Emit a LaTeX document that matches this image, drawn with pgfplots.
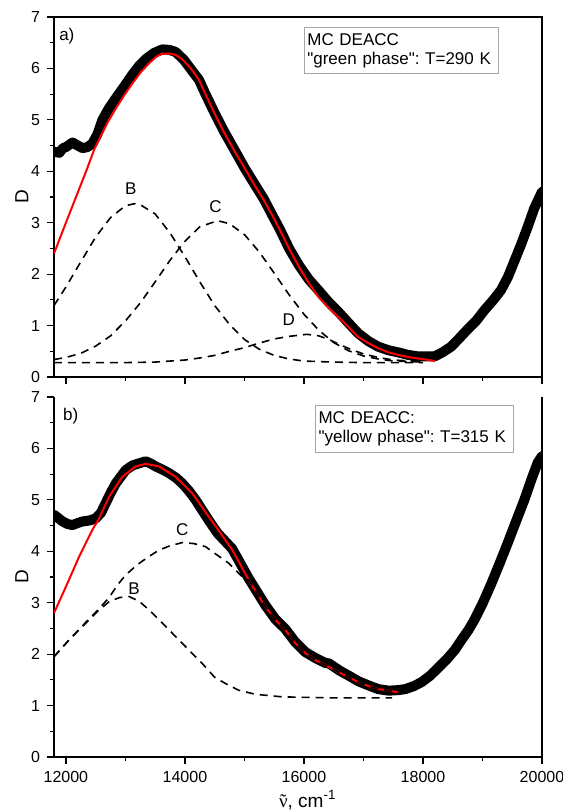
\documentclass[border=0pt]{standalone}
\usepackage{fontspec}
\setmainfont{Liberation Sans}
\newfontfamily\tnr{Liberation Serif}
\usepackage{pgfplots}
\pgfplotsset{compat=1.18}

\pgfplotsset{
  specax/.style={
    scale only axis, width=244pt, height=180pt,
    xmin=11800, xmax=20000, ymin=0, ymax=7,
    xtick={12000,14000,16000,18000,20000},
    minor x tick num=1,
    ytick={0,1,...,7}, minor y tick num=1,
    tick align=outside, tick pos=left,
    major tick length=3.5pt, minor tick length=1.8pt,
    scaled x ticks=false,
    /pgf/number format/1000 sep={},
    /pgf/number format/assume math mode=true,
    tick label style={font=\fontsize{8}{9}\selectfont},
    axis line style={line width=0.7pt, -},
    every tick/.style={black, line width=0.6pt},
    ylabel={D},
    ylabel style={at={(axis description cs:-0.066,0.5)}, anchor=center,
      font=\fontsize{9.5}{10}\selectfont},
  },
  meas/.style={black, line width=5pt, line join=round, line cap=round},
  fit/.style={red, line width=1pt, line join=round},
  comp/.style={black, line width=0.8pt, dash pattern=on 4pt off 3pt},
}
\tikzset{
  tag/.style={font=\fontsize{8.5}{9}\selectfont},
  lbox/.style={draw=gray!70, fill=white, line width=0.5pt, anchor=north west,
    align=left, inner xsep=1.5pt, inner ysep=2.5pt,
    font=\fontsize{8.5}{9.5}\selectfont\frenchspacing},
}

\begin{document}
\begin{tikzpicture}
\useasboundingbox (-27pt,-27pt) rectangle (254.5pt,378.5pt);

% ---------- panel a ----------
\begin{axis}[specax, at={(0pt,190pt)}, anchor=south west, xticklabels={}]
  \addplot[meas] coordinates {
    (11800,4.38) (11890,4.36) (11950,4.45) (12000,4.47) (12112,4.56) (12200,4.50)
    (12280,4.45) (12360,4.47) (12446,4.54) (12530,4.72) (12614,5.0) (12720,5.22)
    (12838,5.42) (12980,5.65) (13117,5.88) (13230,6.05) (13340,6.18) (13480,6.3)
    (13620,6.37) (13740,6.36) (13844,6.32) (13980,6.17) (14123,5.95) (14235,5.78)
    (14346,5.5) (14500,5.13) (14655,4.78) (14850,4.38) (15000,4.07) (15170,3.75)
    (15326,3.46) (15480,3.12) (15600,2.86) (15750,2.5) (15912,2.18) (16080,1.9)
    (16241,1.69) (16420,1.45) (16576,1.27) (16750,1.05) (16911,0.85) (17080,0.70)
    (17246,0.59) (17420,0.52) (17581,0.48) (17750,0.43) (17916,0.40) (18050,0.40)
    (18195,0.40) (18330,0.48) (18474,0.59) (18600,0.74) (18753,0.93) (18900,1.10)
    (19033,1.30) (19170,1.48) (19312,1.69) (19430,1.95) (19535,2.25) (19650,2.58)
    (19760,2.92) (19870,3.28) (20000,3.6)
  };
  \addplot[fit] coordinates {
    (11800,2.4) (12000,3.0) (12170,3.5) (12340,4.0) (12475,4.42) (12558,4.62)
    (12700,4.95) (12838,5.22) (12980,5.48) (13117,5.71) (13260,5.93) (13397,6.1)
    (13520,6.23) (13620,6.29) (13750,6.29) (13850,6.26) (13955,6.18) (14100,6.0)
    (14235,5.78) (14346,5.5) (14500,5.12) (14655,4.76) (14850,4.36) (15000,4.07)
    (15170,3.73) (15326,3.44) (15480,3.12) (15600,2.85) (15750,2.5) (15912,2.15)
    (16080,1.83) (16241,1.56) (16420,1.34) (16576,1.17) (16750,0.97) (16911,0.78)
    (17080,0.66) (17246,0.56) (17420,0.48) (17581,0.43) (17750,0.39) (17916,0.36)
    (18050,0.34) (18200,0.31)
  };
  % component B
  \addplot[comp] coordinates {
    (11800,1.39) (12000,1.75) (12250,2.24) (12500,2.72) (12750,3.10) (13000,3.33)
    (13150,3.37) (13250,3.35) (13500,3.17) (13750,2.80) (14000,2.34) (14250,1.85)
    (14500,1.39) (14750,1.02) (15000,0.73) (15250,0.54) (15500,0.42) (15750,0.35)
    (16000,0.31) (16500,0.29) (17000,0.28) (17500,0.28) (18000,0.28)
  };
  % component C
  \addplot[comp] coordinates {
    (11800,0.34) (12000,0.38) (12250,0.46) (12500,0.60) (12750,0.80) (13000,1.09)
    (13250,1.44) (13500,1.85) (13750,2.27) (14000,2.64) (14250,2.92) (14550,3.04)
    (14750,2.98) (15000,2.77) (15250,2.43) (15500,2.02) (15750,1.6) (16000,1.22)
    (16250,0.91) (16500,0.67) (16750,0.51) (17000,0.41) (17250,0.35) (17500,0.31)
    (18000,0.29)
  };
  % component D
  \addplot[comp] coordinates {
    (11800,0.28) (13000,0.28) (13500,0.29) (14000,0.33) (14250,0.37) (14500,0.42)
    (14750,0.50) (15000,0.57) (15250,0.66) (15500,0.74) (15750,0.79) (16050,0.83)
    (16250,0.80) (16420,0.73) (16600,0.63) (16800,0.53) (17000,0.45) (17250,0.38)
    (17500,0.33) (18000,0.30)
  };
  \node[tag] at (axis cs:13091,3.67) {B};
  \node[tag] at (axis cs:14513,3.31) {C};
  \node[tag] at (axis cs:15745,1.11) {D};
  \node[tag, anchor=north west, inner sep=0pt] at (rel axis cs:0.01,0.97) {a)};
  \node[lbox, text width=94pt, minimum height=23pt] at (rel axis cs:0.512,0.972)
    {MC DEACC\\\textquotedbl green phase\textquotedbl: T=290 K};
\end{axis}

% ---------- panel b ----------
\begin{axis}[specax, at={(0pt,0pt)}, anchor=south west,
    axis x line*=bottom, axis y line*=box,
    xlabel={{\tnr\ooalign{ν\cr\hidewidth˜\hidewidth\cr}}, cm\textsuperscript{-1}},
    xlabel style={at={(axis description cs:0.52,-0.12)}, anchor=center,
      font=\fontsize{9.5}{10}\selectfont}]
  \addplot[meas] coordinates {
    (11800,4.71) (11945,4.58) (12030,4.53) (12112,4.51) (12200,4.55) (12280,4.58)
    (12400,4.6) (12503,4.64) (12590,4.75) (12670,4.94) (12750,5.13) (12838,5.32)
    (13006,5.58) (13120,5.67) (13229,5.71) (13341,5.75) (13420,5.71) (13509,5.65)
    (13620,5.59) (13732,5.52) (13850,5.43) (13955,5.32) (14070,5.17) (14179,5.0)
    (14290,4.8) (14402,4.6) (14550,4.35) (14794,4.05) (15073,3.47) (15352,2.95)
    (15520,2.68) (15687,2.49) (15850,2.24) (16023,2.04) (16200,1.92) (16358,1.83)
    (16420,1.82) (16600,1.68) (16755,1.58) (16920,1.47) (17090,1.39) (17250,1.32)
    (17425,1.29) (17580,1.30) (17704,1.32) (17850,1.38) (17983,1.46) (18120,1.58)
    (18262,1.74) (18400,1.9) (18541,2.09) (18650,2.28) (18765,2.47) (18866,2.67)
    (19000,2.98) (19145,3.36) (19290,3.77) (19424,4.16) (19570,4.6) (19704,5.0)
    (19830,5.42) (19927,5.72) (20000,5.85)
  };
  \addplot[fit] coordinates {
    (11800,2.8) (12000,3.31) (12224,3.9) (12446,4.42) (12558,4.64) (12726,5.06)
    (12950,5.45) (13173,5.65) (13341,5.70) (13564,5.65) (13843,5.45) (14123,5.13)
    (14402,4.67) (14600,4.35) (14794,4.03) (15073,3.44) (15352,2.92) (15520,2.67)
    (15687,2.47) (15850,2.22) (16023,2.02) (16200,1.88) (16358,1.79) (16500,1.70)
    (16750,1.55) (16978,1.42) (17250,1.32) (17536,1.27) (17600,1.26)
  };
  % component B
  \addplot[comp] coordinates {
    (11800,1.95) (12056,2.28) (12335,2.6) (12530,2.83) (12726,3.02) (12900,3.1)
    (13062,3.12) (13230,3.03) (13397,2.86) (13676,2.54) (13955,2.21) (14290,1.82)
    (14500,1.55) (14680,1.43) (14900,1.3) (15180,1.22) (15630,1.17) (16000,1.16)
    (16500,1.15) (17000,1.15) (17480,1.15)
  };
  % component C
  \addplot[comp] coordinates {
    (11800,1.95) (12056,2.28) (12335,2.62) (12530,2.85) (12726,3.1) (12870,3.35)
    (13006,3.54) (13200,3.74) (13397,3.9) (13560,4.02) (13732,4.1) (13955,4.17)
    (14150,4.15) (14346,4.09) (14550,3.92) (14735,3.77) (14960,3.51) (15073,3.44)
    (15352,2.92) (15520,2.67) (15687,2.47) (15850,2.22) (16023,2.02) (16200,1.88)
    (16358,1.79) (16500,1.70) (16750,1.55) (16978,1.42) (17250,1.32) (17536,1.27)
    (17600,1.26)
  };
  \node[tag] at (axis cs:13955,4.42) {C};
  \node[tag] at (axis cs:13145,3.28) {B};
  \node[tag, anchor=north west, inner sep=0pt] at (rel axis cs:0.018,0.969) {b)};
  \node[lbox, text width=96pt, minimum height=23.5pt] at (rel axis cs:0.535,0.978)
    {MC DEACC:\\\textquotedbl yellow phase\textquotedbl: T=315 K};
\end{axis}
\end{tikzpicture}
\end{document}
